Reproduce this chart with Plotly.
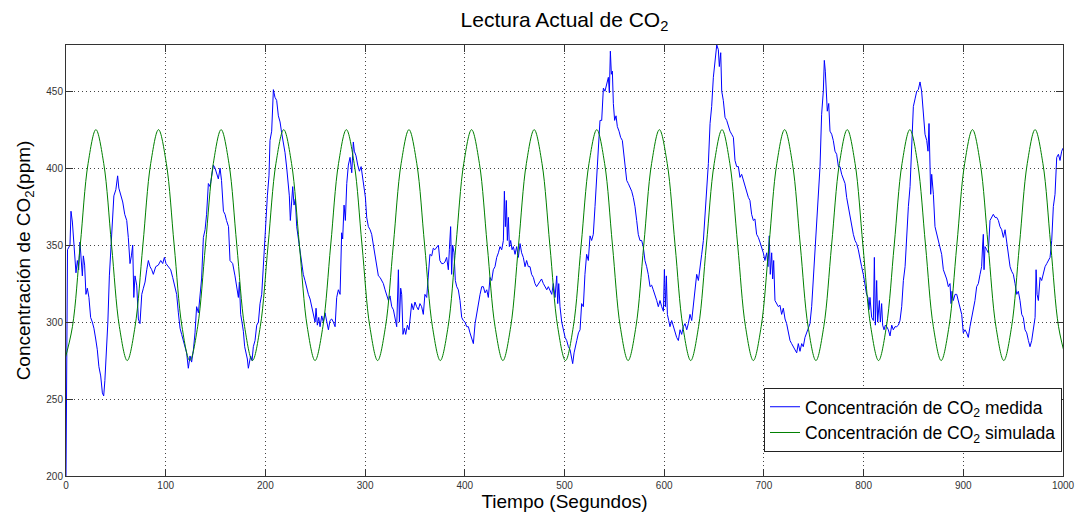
import plotly.graph_objects as go

# Measured CO2 concentration (ppm) against time (s)
t_medida = [
    0, 1.5, 4, 5, 6.4, 7.4, 9, 10, 11.4, 12.7,
    14, 15, 16.4, 17.4, 18.7, 20, 21.4, 23, 24.7, 26.4,
    28, 29.8, 31.4, 33, 34.8, 36.5, 37.8, 39, 40.8, 42,
    43.5, 44.8, 46, 48, 50, 51.8, 53, 54.8, 56.9, 58.9,
    60.9, 62.5, 64.2, 65.6, 66.9, 68, 69.2, 70.9, 72.6, 74.2,
    76, 77.6, 79.3, 81, 82.6, 84.3, 86, 87.6, 90, 92.6,
    95, 97, 98.7, 100.3, 102.7, 105, 107, 109, 111, 112.7,
    114.4, 116, 117.7, 119.4, 121, 122.7, 124.4, 126, 127.8, 129.4,
    131, 132.8, 134.4, 136, 137.8, 139.5, 141, 142.8, 144.5, 146,
    147.8, 149.5, 151, 152.8, 154.5, 156, 157.9, 159.5, 161, 163,
    164.5, 167.2, 169.5, 171.2, 172.9, 173.9, 175.2, 176.5, 177.9, 179.2,
    180.6, 181.9, 182.9, 183.9, 185.2, 186.6, 187.9, 189.6, 191.3, 193,
    194.6, 196.3, 197.3, 198.3, 199.3, 200.3, 202, 203.6, 204.6, 206.3,
    208, 209.6, 211.3, 213, 214.7, 216.3, 218, 219.7, 221.4, 222.7,
    224, 225, 226, 227.4, 228.7, 230, 231.4, 233, 234.7, 236.4,
    238, 239.7, 241.4, 243.1, 244.8, 246.4, 248.1, 249.8, 250.8, 252.1,
    253.5, 254.8, 256.5, 258.1, 259.8, 261.5, 263.2, 264.8, 266.5, 268.2,
    269.9, 271.5, 273.2, 274.9, 276.5, 277.5, 278.9, 280.2, 281.6, 283.2,
    284.9, 286.6, 288.2, 289.2, 290.9, 292.6, 294.3, 296, 297.6, 299,
    300.3, 301.6, 303.3, 305, 306.6, 308.3, 310, 311.7, 313.3, 315,
    316.7, 318.3, 320, 321.7, 323.4, 325, 326.7, 328.4, 330, 331.7,
    333.4, 334.4, 335.7, 336.7, 338, 339.4, 340.7, 342.4, 344,
    345, 346.7, 348.4, 350, 351.7, 353.4, 355, 356.7, 358.4, 360,
    361.8, 363.4, 365, 366.8, 368.4, 370, 371.8, 373.5, 375, 376.8,
    378.5, 380, 381.8, 383.5, 384.5, 385.8, 386.8, 387.8, 389.2, 390.5,
    391.9, 393.5, 395.2, 396.9, 398.5, 400.2, 401.9, 403.6, 405.2, 406.9,
    408.6, 410.3, 411.9, 413.6, 415.3, 417, 418.6, 420.3, 422, 423.6,
    425.3, 427, 428.6, 430.3, 432, 433.7, 435.3, 437, 438.7, 439.7,
    440.7, 441.7, 442.7, 443.7, 444.7, 446, 447.4, 448.7, 450.4, 452,
    453.7, 455.4, 457, 458.7, 460.4, 462, 463.7, 465.4, 467, 468.8,
    470.4, 472, 473.8, 475.5, 477, 478.8, 480.5, 482.2, 483.8, 485.5,
    487.2, 488.8, 490.5, 492.2, 493.2, 494.2, 495.5, 497.2, 498.9, 500.6,
    502.2, 503.9, 505.6, 507.2, 508.2, 509.6, 510.9, 512.3, 514, 515.6,
    517.2, 518.9, 520.5, 522.2, 523.9, 525.6, 527.2, 528.9, 530.6, 532.3,
    533.3, 534.3, 535.6, 537.3, 539, 540.6, 542.3, 544, 545, 546,
    547, 548, 549, 550.3, 551.7, 553, 554.7, 556.3, 558, 559.3,
    560.7, 562.4, 564, 565.7, 567.4, 569, 570.7, 572.4, 574, 575.7,
    577.4, 579, 580.7, 582.4, 584, 585.8, 587.4, 589, 590.8, 592.5,
    594.1, 595.8, 597.5, 599.2, 600.2, 601.2, 602.2, 603.2, 604.5, 605.8,
    607.5, 609.2, 610.8, 612.5, 614.2, 615.9, 617.5, 619.2, 620.9, 622.6,
    624.2, 625.9, 627.6, 629.2, 630.9, 632.6, 634.3, 635.9, 637.6, 639.3,
    641, 642.6, 644.3, 646, 647.6, 649.3, 651, 652.7, 654.3, 655.3,
    656.7, 657.7, 659.3, 661, 662.7, 664.4, 666, 667.7, 669.4, 671,
    672.7, 674.4, 676, 677.7, 679.4, 681, 682.8, 684.4, 686,
    687.7, 689.4, 691, 692.7, 694.4, 696, 697.7, 699.4, 701, 702.8,
    704.1, 705.4, 706.4, 707.8, 708.8, 709.8, 711.1, 712.8, 714.5, 716.1,
    717.8, 719.5, 721.2, 722.8, 724.5, 726.2, 727.8, 729.5, 731.2, 732.9,
    734.5, 736.2, 737.9, 739.5, 741.2, 742.9, 744.6, 746.2, 747.9, 749.6,
    751.3, 752.9, 754.6, 756.3, 757.9, 759.6, 760.6, 761.6, 762.6, 763.6,
    765, 766.3, 768, 769.6, 771.3, 773, 774.7, 776.3, 778, 779.7,
    781.4, 783, 784.7, 786.4, 788, 789.7, 791.4, 793, 794.7, 796.4,
    798, 799.7, 801.4, 803, 804.4, 805.4, 806.4, 808.1, 809.8, 810.8,
    811.8, 813.1, 814.1, 815.8, 816.8, 818.1, 819.1, 820.5, 821.8, 823.2,
    824.8, 826.5, 828.2, 829.8, 831.5, 833.2, 834.9, 836.5, 838.2, 839.9,
    841.6, 843.2, 844.9, 846.6, 848.2, 849.9, 851.6, 853.3, 854.9,
    856.6, 858.2, 859.9, 861.6, 863.3, 864.6, 865.6, 866.6, 867.3, 868.3,
    870, 871.6, 873.3, 875, 876.6, 878.3, 880, 881.7, 883.3, 885,
    886.7, 887.7, 888.7, 890, 891.7, 893.4, 895, 896.7, 898.4, 900,
    901.7, 903.4, 905, 906.7, 908.4, 910.1, 911.7, 913.4, 915.1, 916.8,
    918.4, 919.4, 920.1, 920.8, 921.8, 923.5, 925.1, 926.8, 928.5, 930.1,
    931.8, 933.5, 935.2, 936.8, 938.5, 940.2, 941.9, 943.5, 945.2, 946.9,
    948.5, 950.2, 951.9, 953.6, 955.2, 956.9, 958.6, 960.2, 961.9, 963.6,
    965.3, 966.9, 968.6, 970.3, 972, 973, 974, 975.3, 977, 978.6,
    980.3, 982, 983.7, 985.3, 987, 988.7, 990.3, 992, 993.7, 995.4,
    997, 998.7, 1000,
]
co2_medida = [
    200, 347, 350, 372, 365, 355, 345, 332, 340, 334,
    352, 340, 330, 343, 337, 318, 322, 316, 303, 300,
    296, 289, 282, 271, 265, 254, 252, 262, 284, 300,
    330, 345, 365, 382, 386, 395, 387, 382, 378, 370,
    366, 355, 338, 343, 350, 316, 330, 324, 302, 299,
    318, 322, 326, 334, 340, 336, 334, 331, 336, 337,
    340, 338, 342, 338, 336, 334, 329, 323, 318, 306,
    296, 292, 288, 284, 280, 270, 278, 274, 282, 293,
    310, 306, 316, 328, 355, 360, 370, 390, 388, 396,
    402, 400, 396, 393, 400, 392, 372, 370, 366, 362,
    340, 338, 330, 322, 316, 326, 305, 300, 294, 284,
    280, 276, 270, 274, 278, 275, 284, 288, 298, 300,
    312, 318, 330, 345, 353, 366, 382, 395, 418, 424,
    451, 446, 444, 434, 430, 423, 417, 410, 400, 392,
    382, 366, 378, 388, 376, 380, 362, 354, 346, 336,
    331, 327, 322, 318, 315, 310, 306, 300, 309, 298,
    303, 297, 304, 300, 306, 299, 295, 301, 302, 300,
    297, 316, 321, 318, 358, 354, 376, 366, 390, 402,
    407, 397, 417, 411, 408, 402, 398, 401, 394, 390,
    381, 368, 362, 360, 357, 350, 342, 335, 330, 329,
    327, 325, 321, 318, 314, 317, 310, 308, 302, 297,
    334, 300, 322, 318, 292, 296, 292, 298, 295,
    301, 312, 308, 313, 310, 308, 312, 310, 305, 318,
    316, 328, 344, 343, 348, 347, 349, 350, 340, 338,
    338, 339, 342, 334, 347, 362, 331, 350, 345, 327,
    323, 321, 314, 303, 301, 300, 297, 297, 293, 290,
    286, 299, 305, 314, 318, 323, 323, 319, 321, 316,
    329, 327, 334, 336, 342, 345, 349, 347, 353, 385,
    362, 379, 353, 368, 349, 353, 347, 349, 344, 349,
    342, 351, 345, 342, 336, 340, 336, 336, 331, 329,
    325, 323, 325, 327, 328, 325, 323, 321, 323, 320,
    318, 325, 316, 330, 312, 325, 310, 300, 295, 290,
    288, 284, 282, 276, 273, 280, 285, 288, 293, 295,
    312, 310, 331, 344, 340, 356, 353, 357, 375, 392,
    401, 418, 431, 431, 452, 450, 455, 459, 449, 476,
    461, 463, 442, 431, 434, 427, 424, 420, 418, 409,
    399, 392, 390, 388, 385, 381, 375, 366, 357, 353,
    353, 349, 340, 336, 331, 323, 324, 321, 318, 314,
    310, 314, 310, 307, 334, 310, 330, 305, 301, 297,
    301, 297, 293, 290, 288, 295, 292, 297, 299, 295,
    299, 305, 301, 310, 318, 331, 327, 334, 344, 353,
    370, 388, 403, 429, 440, 459, 468, 480, 477, 466,
    475, 450, 444, 433, 431, 427, 424, 422, 420, 405,
    401, 401, 394, 396, 392, 388, 385, 381, 379,
    370, 366, 367, 357, 355, 352, 349, 345, 340, 345,
    336, 356, 331, 345, 328, 340, 314, 312, 310, 311,
    305, 309, 302, 299, 293, 288, 286, 284, 283, 280,
    286, 281, 286, 284, 290, 293, 297, 299, 310, 327,
    345, 362, 383, 401, 435, 450, 470, 463, 450, 437,
    442, 424, 422, 418, 411, 409, 401, 401, 396, 393,
    390, 381, 375, 370, 362, 357, 353, 351, 347, 340,
    336, 331, 323, 318, 316, 308, 316, 303, 301, 342,
    298, 327, 300, 314, 300, 312, 298, 295, 298, 297,
    295, 291, 298, 295, 297, 297, 298, 301, 310, 327,
    336, 357, 375, 388, 418, 440, 445, 450, 451,
    456, 450, 435, 422, 418, 411, 429, 396, 383, 396,
    383, 362, 357, 353, 349, 344, 334, 331, 328, 323,
    325, 312, 320, 314, 318, 318, 314, 310, 305, 293,
    295, 293, 290, 297, 303, 310, 314, 323, 325, 331,
    336, 350, 357, 334, 349, 347, 345, 366, 368, 370,
    368, 368, 366, 362, 360, 355, 360, 353, 345, 336,
    333, 331, 325, 318, 320, 314, 305, 303, 295, 293,
    288, 284, 288, 295, 303, 334, 318, 314, 329, 327,
    331, 336, 338, 340, 342, 353, 375, 383, 407, 409,
    405, 411, 413,
]

# Simulated CO2 concentration (ppm), read at eight points per cycle
t_simulada = [
    -1.4, 6.45, 14.3, 22.15, 30.0, 37.85, 45.7, 53.55,
    61.4, 69.25, 77.1, 84.95, 92.8, 100.65, 108.5, 116.35,
    124.2, 132.05, 139.9, 147.75, 155.6, 163.45, 171.3, 179.15,
    187.0, 194.85, 202.7, 210.55, 218.4, 226.25, 234.1, 241.95,
    249.8, 257.65, 265.5, 273.35, 281.2, 289.05, 296.9, 304.75,
    312.6, 320.45, 328.3, 336.15, 344.0, 351.85, 359.7, 367.55,
    375.4, 383.25, 391.1, 398.95, 406.8, 414.65, 422.5, 430.35,
    438.2, 446.05, 453.9, 461.75, 469.6, 477.45, 485.3, 493.15,
    501.0, 508.85, 516.7, 524.55, 532.4, 540.25, 548.1, 555.95,
    563.8, 571.65, 579.5, 587.35, 595.2, 603.05, 610.9, 618.75,
    626.6, 634.45, 642.3, 650.15, 658.0, 665.85, 673.7, 681.55,
    689.4, 697.25, 705.1, 712.95, 720.8, 728.65, 736.5, 744.35,
    752.2, 760.05, 767.9, 775.75, 783.6, 791.45, 799.3, 807.15,
    815.0, 822.85, 830.7, 838.55, 846.4, 854.25, 862.1, 869.95,
    877.8, 885.65, 893.5, 901.35, 909.2, 917.05, 924.9, 932.75,
    940.6, 948.45, 956.3, 964.15, 972.0, 979.85, 987.7, 995.55,
    1003.4,
]
co2_simulada = [
    275, 297, 350, 403, 425, 403, 350, 297,
    275, 297, 350, 403, 425, 403, 350, 297,
    275, 297, 350, 403, 425, 403, 350, 297,
    275, 297, 350, 403, 425, 403, 350, 297,
    275, 297, 350, 403, 425, 403, 350, 297,
    275, 297, 350, 403, 425, 403, 350, 297,
    275, 297, 350, 403, 425, 403, 350, 297,
    275, 297, 350, 403, 425, 403, 350, 297,
    275, 297, 350, 403, 425, 403, 350, 297,
    275, 297, 350, 403, 425, 403, 350, 297,
    275, 297, 350, 403, 425, 403, 350, 297,
    275, 297, 350, 403, 425, 403, 350, 297,
    275, 297, 350, 403, 425, 403, 350, 297,
    275, 297, 350, 403, 425, 403, 350, 297,
    275, 297, 350, 403, 425, 403, 350, 297,
    275, 297, 350, 403, 425, 403, 350, 297,
    275,
]

x_ticks = [0, 100, 200, 300, 400, 500, 600, 700, 800, 900, 1000]
y_ticks = [200, 250, 300, 350, 400, 450]

FONT = "Liberation Sans, Arial, sans-serif"

fig = go.Figure()
fig.add_trace(go.Scatter(
    x=t_medida, y=co2_medida, mode="lines",
    name="Concentración de CO<sub>2</sub> medida",
    line=dict(color="#0000ff", width=1),
))
fig.add_trace(go.Scatter(
    x=t_simulada, y=co2_simulada, mode="lines",
    name="Concentración de CO<sub>2</sub> simulada",
    line=dict(color="#008000", width=1, shape="spline", smoothing=1),
))

axis_common = dict(
    showline=True, linecolor="#333333", linewidth=1, mirror="ticks",
    ticks="inside", ticklen=7, tickcolor="#333333", tickwidth=1,
    showgrid=True, gridcolor="#444444", gridwidth=1, griddash="1px,3px",
    zeroline=False,
    tickfont=dict(family=FONT, size=10, color="#333333"),
    title_font=dict(family=FONT, size=19, color="#000000"),
)

fig.update_xaxes(
    range=[0, 1000], tickvals=x_ticks,
    title_text="Tiempo (Segundos)", title_standoff=4,
    **axis_common,
)
fig.update_yaxes(
    range=[200, 480], tickvals=y_ticks,
    title_text="Concentración de CO<sub>2</sub>(ppm)", title_standoff=10,
    **axis_common,
)

fig.update_layout(
    width=1079, height=515,
    margin=dict(l=66, r=16, t=45, b=39, autoexpand=False),
    paper_bgcolor="white", plot_bgcolor="white",
    font=dict(family=FONT, color="#000000"),
    title=dict(
        text="Lectura Actual de CO<sub>2</sub>",
        x=0.5, xref="paper", xanchor="center",
        y=0.962, yref="container", yanchor="middle",
        font=dict(family=FONT, size=21, color="#000000"),
    ),
    legend=dict(
        x=0.999, xanchor="right", y=0.056, yanchor="bottom",
        bgcolor="white", bordercolor="#222222", borderwidth=1,
        font=dict(family=FONT, size=17.5, color="#000000"),
        tracegroupgap=0,
    ),
    showlegend=True,
)

fig.write_html("out.html")
